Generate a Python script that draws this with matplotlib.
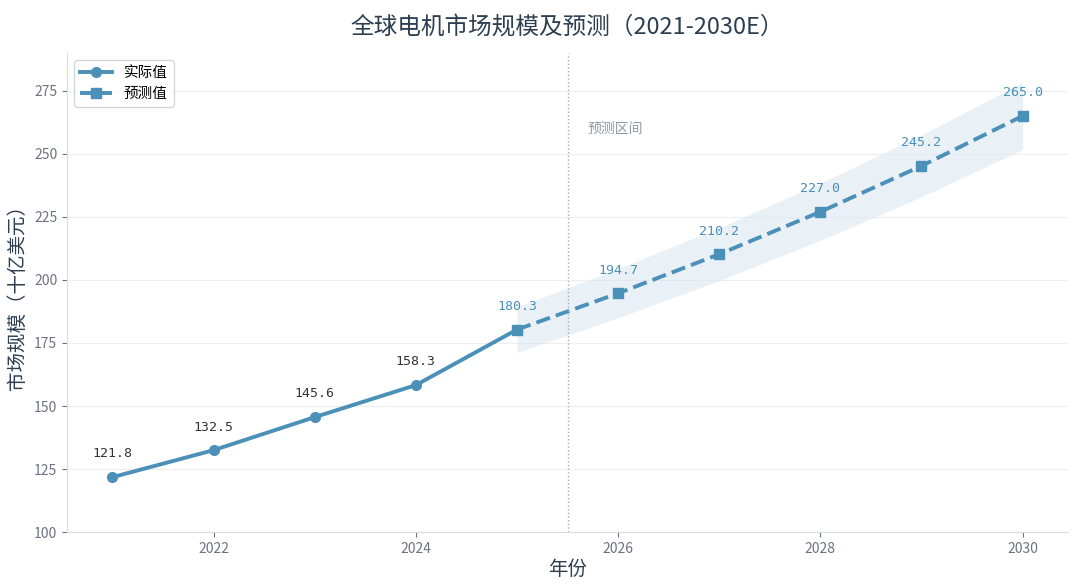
import matplotlib.pyplot as plt
import numpy as np

plt.rcParams['font.family'] = ['Noto Sans CJK SC', 'DejaVu Sans']

years_actual = [2021, 2022, 2023, 2024, 2025]
values_actual = [121.8, 132.5, 145.6, 158.3, 180.3]
years_fc = [2025, 2026, 2027, 2028, 2029, 2030]
values_fc = [180.3, 194.7, 210.2, 227.0, 245.2, 265.0]
band = 0.05

line_color = '#4a90b8'
text_dark = '#2c3e50'
tick_color = '#6b7280'
num_font = ['DejaVu Sans Mono']

fig, ax = plt.subplots(figsize=(10.8, 5.88), dpi=100)

fc = np.array(values_fc)
ax.fill_between(years_fc, fc * (1 - band), fc * (1 + band), color='#dde8f0', alpha=0.6, lw=0)

ax.plot(years_actual, values_actual, color=line_color, lw=2.8, marker='o', ms=7, label='实际值')
ax.plot(years_fc, values_fc, color=line_color, lw=2.8, ls='--', marker='s', ms=7, label='预测值')

for x, y in zip(years_actual[:-1], values_actual[:-1]):
    ax.annotate(f'{y:.1f}', (x, y), xytext=(0, 12), textcoords='offset points',
                ha='center', va='bottom', fontsize=9.5, color='#333333', family=num_font)
for x, y in zip(years_fc, values_fc):
    ax.annotate(f'{y:.1f}', (x, y), xytext=(0, 12), textcoords='offset points',
                ha='center', va='bottom', fontsize=9.5, color=line_color, family=num_font)

ax.axvline(2025.5, color='#aaaaaa', ls=':', lw=1)
ax.text(2025.7, 260, '预测区间', fontsize=10, color='#8a99a8', va='center')

ax.set_ylim(100, 290)
ax.set_yticks(np.arange(100, 276, 25))
ax.set_xticks([2022, 2024, 2026, 2028, 2030])
ax.grid(axis='y', color='#eeeeee', lw=0.8)
ax.set_axisbelow(True)
for s in ['top', 'right']:
    ax.spines[s].set_visible(False)
for s in ['left', 'bottom']:
    ax.spines[s].set_color('#d8dde3')
ax.tick_params(colors=tick_color, labelsize=10)

ax.set_title('全球电机市场规模及预测（2021-2030E）', fontsize=17, color=text_dark, pad=14)
ax.set_xlabel('年份', fontsize=14, color=text_dark, labelpad=2)
ax.set_ylabel('市场规模（十亿美元）', fontsize=14, color=text_dark)

leg = ax.legend(loc='upper left', fontsize=10.5, frameon=True, handlelength=2.2)
leg.get_frame().set_edgecolor('#cccccc')

plt.subplots_adjust(left=0.062, right=0.989, top=0.91, bottom=0.095)
plt.savefig('out.png', dpi=100)
